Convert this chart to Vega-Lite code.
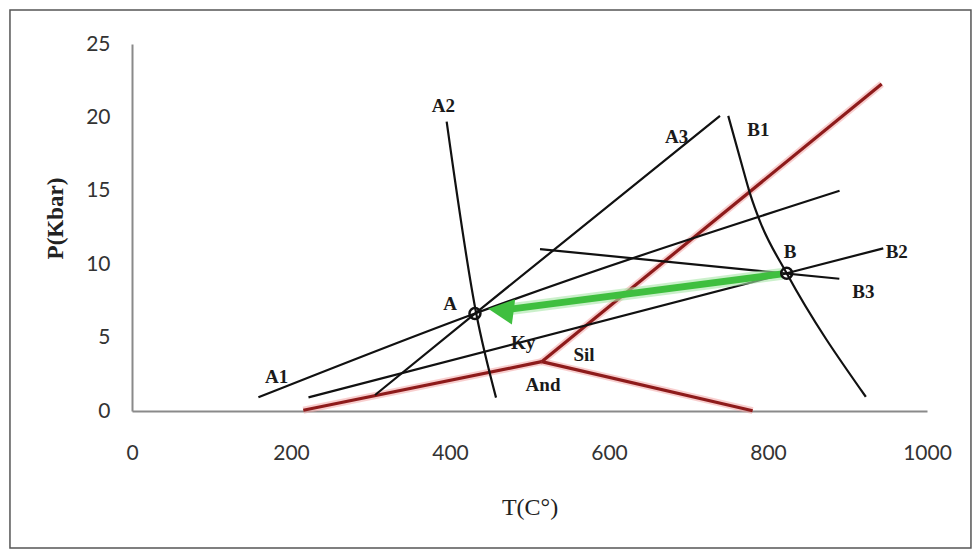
{
  "$schema": "https://vega.github.io/schema/vega-lite/v6.json",
  "width": 795,
  "height": 367,
  "autosize": "none",
  "padding": {"left": 132, "top": 44, "right": 46, "bottom": 141},
  "background": "white",
  "config": {"view": {"stroke": null}},
  "datasets": {
    "lines": [
      {"series": "A1", "group": "reaction", "T": 159, "P": 0.93},
      {"series": "A1", "group": "reaction", "T": 431.4, "P": 6.64},
      {"series": "A1", "group": "reaction", "T": 890, "P": 15.0},
      {"series": "A2", "group": "reaction", "T": 395.8, "P": 19.71},
      {"series": "A2", "group": "reaction", "T": 433, "P": 6.64},
      {"series": "A2", "group": "reaction", "T": 457.9, "P": 0.91},
      {"series": "A3", "group": "reaction", "T": 305.7, "P": 1.09},
      {"series": "A3", "group": "reaction", "T": 431.4, "P": 6.64},
      {"series": "A3", "group": "reaction", "T": 739.6, "P": 20.1},
      {"series": "B1", "group": "reaction", "T": 750, "P": 20.1},
      {"series": "B1", "group": "reaction", "T": 769, "P": 16.4},
      {"series": "B1", "group": "reaction", "T": 778, "P": 14.7},
      {"series": "B1", "group": "reaction", "T": 790, "P": 12.9},
      {"series": "B1", "group": "reaction", "T": 823.5, "P": 9.38},
      {"series": "B1", "group": "reaction", "T": 923, "P": 0.97},
      {"series": "B2", "group": "reaction", "T": 222, "P": 0.93},
      {"series": "B2", "group": "reaction", "T": 823.5, "P": 9.38},
      {"series": "B2", "group": "reaction", "T": 945, "P": 11.08},
      {"series": "B3", "group": "reaction", "T": 513.2, "P": 11.03},
      {"series": "B3", "group": "reaction", "T": 889.7, "P": 9.01},
      {"series": "Ky-And", "group": "Al2SiO5", "T": 215.5, "P": 0.05},
      {"series": "Ky-And", "group": "Al2SiO5", "T": 515.3, "P": 3.36},
      {"series": "And-Sil", "group": "Al2SiO5", "T": 515.3, "P": 3.36},
      {"series": "And-Sil", "group": "Al2SiO5", "T": 780.7, "P": 0.02},
      {"series": "Ky-Sil", "group": "Al2SiO5", "T": 515.3, "P": 3.36},
      {"series": "Ky-Sil", "group": "Al2SiO5", "T": 943, "P": 22.28}
    ],
    "points": [
      {"name": "A", "T": 431.4, "P": 6.64},
      {"name": "B", "T": 823.5, "P": 9.38}
    ],
    "arrow": [
      {"T": 476, "P": 6.94},
      {"T": 818, "P": 9.34}
    ],
    "head": [
      {"T": 464, "P": 6.86}
    ],
    "labels": [
      {"label": "A1", "T": 182, "P": 2.34},
      {"label": "A2", "T": 391.6, "P": 20.78},
      {"label": "A", "T": 400, "P": 7.29},
      {"label": "A3", "T": 685, "P": 18.64},
      {"label": "B1", "T": 788, "P": 19.14},
      {"label": "B", "T": 827.7, "P": 10.85},
      {"label": "B2", "T": 962, "P": 10.85},
      {"label": "B3", "T": 920, "P": 8.13},
      {"label": "Ky", "T": 492, "P": 4.61},
      {"label": "Sil", "T": 568.6, "P": 3.81},
      {"label": "And", "T": 517, "P": 1.77}
    ],
    "frame": [
      {"T": -153.5, "T2": 1055.3, "P": -9.33, "P2": 27.32}
    ]
  },
  "encoding": {
    "x": {
      "field": "T",
      "type": "quantitative",
      "scale": {"domain": [0, 1000], "nice": false, "zero": false},
      "axis": {
        "title": "T(C°)",
        "values": [0, 200, 400, 600, 800, 1000],
        "format": "d",
        "grid": false,
        "ticks": false,
        "domainColor": "#8a8a8a",
        "domainWidth": 2,
        "labelFont": "Lato",
        "labelFontSize": 21,
        "labelColor": "#333333",
        "labelPadding": 31,
        "labelFlush": false,
        "titleFont": "Liberation Serif",
        "titleFontSize": 24,
        "titleFontWeight": "normal",
        "titleColor": "#222222",
        "titleBaseline": "middle",
        "titleY": 96
      }
    },
    "y": {
      "field": "P",
      "type": "quantitative",
      "scale": {"domain": [0, 25], "nice": false, "zero": false},
      "axis": {
        "title": "P(Kbar)",
        "values": [0, 5, 10, 15, 20, 25],
        "format": "d",
        "grid": false,
        "ticks": false,
        "domainColor": "#8a8a8a",
        "domainWidth": 2,
        "labelFont": "Lato",
        "labelFontSize": 21,
        "labelColor": "#333333",
        "labelPadding": 22,
        "labelFlush": false,
        "titleFont": "Liberation Serif",
        "titleFontSize": 23,
        "titleFontWeight": "bold",
        "titleColor": "#222222",
        "titleX": -77,
        "titleY": 174,
        "titleBaseline": "middle"
      }
    }
  },
  "layer": [
    {
      "data": {"name": "frame"},
      "mark": {"type": "rect", "fill": null, "stroke": "#555555", "strokeWidth": 1.5, "clip": false},
      "encoding": {
        "x2": {"field": "T2"},
        "y2": {"field": "P2"}
      }
    },
    {
      "data": {"name": "lines"},
      "transform": [{"filter": "datum.group === 'Al2SiO5'"}],
      "mark": {"type": "line", "color": "#f2a6a6", "strokeWidth": 7, "opacity": 0.55},
      "encoding": {"detail": {"field": "series"}}
    },
    {
      "data": {"name": "lines"},
      "transform": [{"filter": "datum.group === 'Al2SiO5'"}],
      "mark": {"type": "line", "color": "#8e1b1b", "strokeWidth": 3.2},
      "encoding": {"detail": {"field": "series"}}
    },
    {
      "data": {"name": "lines"},
      "transform": [{"filter": "datum.group === 'reaction'"}],
      "mark": {"type": "line", "color": "#111111", "strokeWidth": 2.2, "interpolate": "monotone"},
      "encoding": {"detail": {"field": "series"}}
    },
    {
      "data": {"name": "arrow"},
      "mark": {"type": "line", "color": "#a8e6a8", "strokeWidth": 12, "opacity": 0.6},
      "encoding": {}
    },
    {
      "data": {"name": "arrow"},
      "mark": {"type": "line", "color": "#3fbf3f", "strokeWidth": 7},
      "encoding": {}
    },
    {
      "data": {"name": "head"},
      "mark": {"type": "point", "shape": "M-1,0L1,-1L1,1Z", "filled": true, "color": "#3fbf3f", "opacity": 1, "size": 650, "angle": 7.4},
      "encoding": {}
    },
    {
      "data": {"name": "points"},
      "mark": {"type": "point", "shape": "circle", "filled": false, "stroke": "#111111", "strokeWidth": 2.5, "size": 120, "opacity": 1},
      "encoding": {}
    },
    {
      "data": {"name": "labels"},
      "mark": {"type": "text", "font": "Liberation Serif", "fontWeight": "bold", "fontSize": 19, "color": "#1a1a1a", "align": "center", "baseline": "middle"},
      "encoding": {"text": {"field": "label"}}
    }
  ]
}
